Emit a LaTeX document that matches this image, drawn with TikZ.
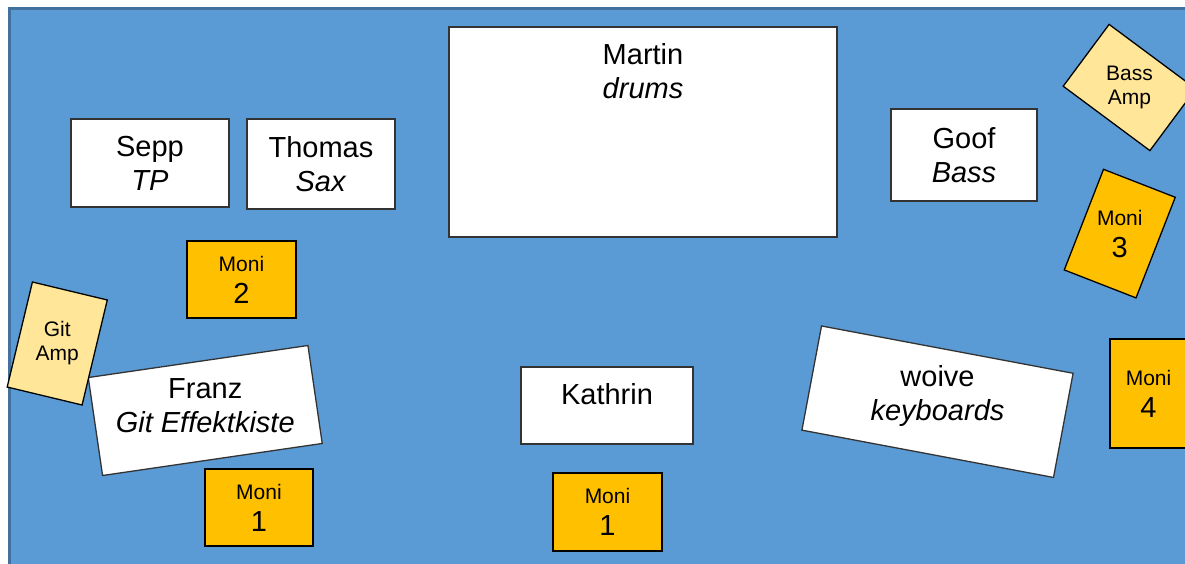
\documentclass[tikz,border=0pt]{standalone}
\usepackage{fontspec}
\setmainfont{Liberation Sans}
\usepackage{tikz}

\definecolor{stageblue}{HTML}{5B9BD5}
\definecolor{stageedge}{HTML}{41719C}
\definecolor{monicolor}{HTML}{FFC000}
\definecolor{ampcolor}{HTML}{FFE699}

\newcommand{\namesize}{\fontsize{29}{34}\selectfont}
\newcommand{\monisize}{\fontsize{21}{24}\selectfont}
\newcommand{\moni}[1]{Moni\\[8pt]{\namesize #1}}

\tikzset{
  person/.style={draw=black!80, fill=white, line width=1.3pt, align=center,
    font=\namesize, inner sep=0pt},
  toptext/.style={anchor=north, align=center, font=\namesize, inner sep=0pt,
    yshift=-17pt},
  monibox/.style={draw=black, fill=monicolor, line width=1.3pt, align=center,
    font=\monisize, inner sep=0pt, minimum width=109pt, minimum height=77pt},
  ampbox/.style={draw=black, fill=ampcolor, line width=1.3pt, inner sep=0pt,
    minimum width=77pt, minimum height=108pt},
  boxtext/.style={align=center, inner sep=0pt},
}

\begin{document}
\begin{tikzpicture}[x=1pt, y=-1pt]
% The stage: a blue floor that runs off the right and the bottom edge.
\useasboundingbox (0,0) rectangle (1185,563);
\clip (0,0) rectangle (1185,563);
\draw [stageedge, fill=stageblue, line width=3pt] (9,8.5) rectangle (1200,580);

% Back line: drums in the middle, horns on the left, bass on the right.
\node [person, minimum width=388pt, minimum height=210pt,
    label={[toptext]north:Martin\\\textit{drums}}] (martin) at (643,132) {};
\node [person, minimum width=158pt, minimum height=88pt] (sepp) at (150,163)
    {Sepp\\\textit{TP}};
\node [person, minimum width=148pt, minimum height=90pt] (thomas) at (321,164)
    {Thomas\\\textit{Sax}};
\node [person, minimum width=146pt, minimum height=92pt] (goof) at (964,155)
    {Goof\\\textit{Bass}};

% Front line. The boxes are turned, their texts stay upright.
\node [person, minimum width=222pt, minimum height=99pt, rotate=8.3]
    (franz) at (205.25,410.5) {};
\node [boxtext, font=\namesize] (franztext) at ([yshift=5pt]franz.center)
    {Franz\\\textit{Git Effektkiste}};
\node [person, minimum width=172pt, minimum height=77pt,
    label={[toptext]north:Kathrin}] (kathrin) at (607,405.5) {};
\node [person, minimum width=256pt, minimum height=106pt, rotate=-10.65]
    (woive) at (937.5,401.7) {};
\node [boxtext, font=\namesize] (woivetext) at ([yshift=6pt]woive.center)
    {woive\\\textit{keyboards}};

% Amps
\node [ampbox, rotate=-13.5] (gitamp) at (57.25,343.5) {};
\node [boxtext, font=\monisize] (gitamptext) at (gitamp) {Git\\Amp};
\node [ampbox, rotate=53.4] (bassamp) at (1129.5,87.5) {};
\node [boxtext, font=\monisize] (bassamptext) at (bassamp) {Bass\\Amp};

% Monitors
\node [monibox] (moniB) at (241.5,279.5) {\moni{2}};
\node [monibox, minimum width=108pt] (moniA) at (259,507.5) {\moni{1}};
\node [monibox, minimum height=78pt] (moniK) at (607.5,512) {\moni{1}};
\node [monibox, minimum width=77pt, minimum height=109pt] (moniD)
    at (1148.5,393.5) {\moni{4}};
\node [monibox, minimum width=77pt, minimum height=108pt, rotate=-21.3]
    (moniC) at (1119.75,233.6) {};
\node [boxtext, font=\monisize] (monictext) at (moniC) {\moni{3}};
\end{tikzpicture}
\end{document}
